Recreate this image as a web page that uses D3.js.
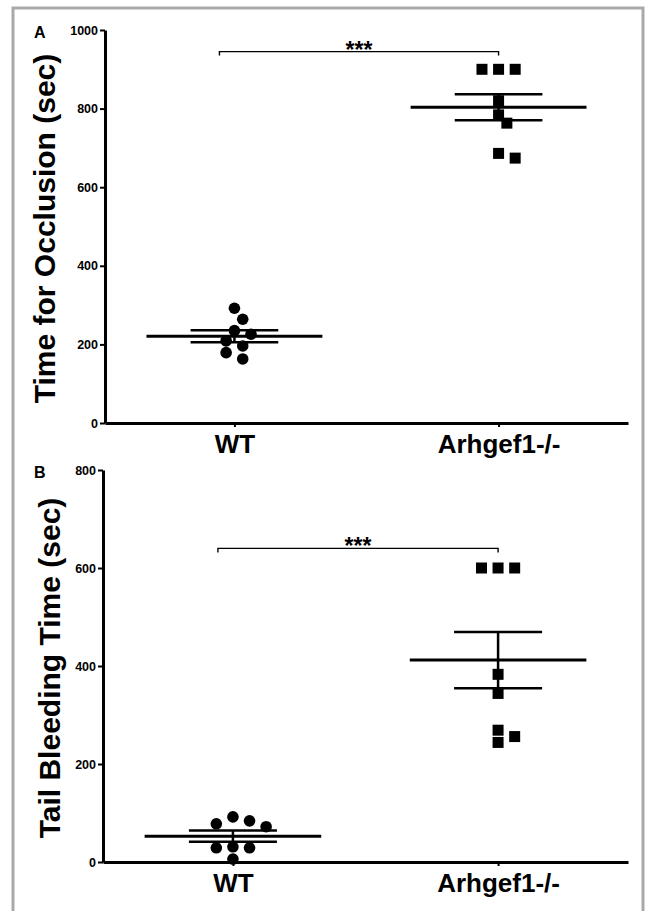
<!DOCTYPE html>
<html>
<head>
<meta charset="utf-8">
<script src="https://cdnjs.cloudflare.com/ajax/libs/d3/7.8.5/d3.min.js"></script>
<style>
  body { margin: 0; background: #fff; }
  svg text { font-family: "Liberation Sans", Arial, sans-serif; font-weight: bold; fill: #000; }
</style>
</head>
<body>
<div id="chart"></div>
<script>
// groups on the x axis
var groups = ["WT", "Arhgef1-/-"];

// panel A: time for occlusion (sec)
var occlusionWT = [292, 264, 235, 226, 209, 196, 179, 163];
var occlusionKO = [900, 900, 900, 820, 784, 763, 686, 674];
var occlusionTicks = [0, 200, 400, 600, 800, 1000];
var occlusionSig = 945;

// panel B: tail bleeding time (sec)
var bleedingWT = [92, 84, 78, 72, 31, 29, 29, 6];
var bleedingKO = [600, 600, 600, 383, 344, 269, 256, 244];
var bleedingTicks = [0, 200, 400, 600, 800];
var bleedingSig = 640;

var W = 647, H = 911;
var svg = d3.select("#chart").append("svg")
    .attr("width", W)
    .attr("height", H);

// grey frame (open at the bottom)
svg.append("rect")
    .attr("x", 13).attr("y", 8)
    .attr("width", 630).attr("height", 930)
    .attr("fill", "none")
    .attr("stroke", "#a9a9a9")
    .attr("stroke-width", 3);

var panels = [
  {letter: "A", title: "Time for Occlusion (sec)", top: 30, bottom: 423, left: 105,
   wt: occlusionWT, ko: occlusionKO, ticks: occlusionTicks, sig: occlusionSig, labelX: 55},
  {letter: "B", title: "Tail Bleeding Time (sec)", top: 470, bottom: 862, left: 103,
   wt: bleedingWT, ko: bleedingKO, ticks: bleedingTicks, sig: bleedingSig, labelX: 60}
];

// simple greedy beeswarm: keep y, shift x by steps until no overlap
function swarm(vals, y, cx, unit, gap) {
  var placed = [];
  vals.slice().sort(function(a, b){ return b - a; }).forEach(function(v){
    var py = y(v);
    for (var k = 0; k < 20; k++) {
      var off = k === 0 ? 0 : (k % 2 ? 1 : -1) * Math.ceil(k / 2) * unit;
      var ok = placed.every(function(p){
        var dx = p.x - (cx + off), dy = p.y - py;
        return Math.sqrt(dx*dx + dy*dy) >= gap;
      });
      if (ok) { placed.push({v: v, x: cx + off, y: py}); break; }
    }
  });
  return placed;
}

panels.forEach(function(p){
  var g = svg.append("g");
  var right = 628;

  var y = d3.scaleLinear()
      .domain([0, d3.max(p.ticks)])
      .range([p.bottom, p.top]);

  var x = d3.scalePoint()
      .domain(groups)
      .range([p.left, right])
      .padding(0.49)
      .align(0.5);

  // y axis
  var ya = g.append("g")
      .attr("transform", "translate(" + p.left + ",0)")
      .call(d3.axisLeft(y).tickValues(p.ticks).tickFormat(d3.format("d"))
        .tickSize(5).tickSizeOuter(0).tickPadding(2));
  ya.select(".domain").attr("stroke-width", 3);
  ya.selectAll(".tick line").attr("stroke-width", 2);
  ya.selectAll(".tick text").style("font-size", "12.5px");

  // x axis
  var xa = g.append("g")
      .attr("transform", "translate(0," + p.bottom + ")")
      .call(d3.axisBottom(x).tickSize(4).tickSizeOuter(0).tickPadding(8));
  xa.select(".domain").attr("stroke-width", 3);
  xa.selectAll(".tick line").attr("stroke-width", 2);
  xa.selectAll(".tick text").style("font-size", "26px");

  // panel letter
  g.append("text")
      .attr("x", 34).attr("y", p.top + 8)
      .style("font-size", "16px")
      .text(p.letter);

  // y axis title
  g.append("text")
      .attr("transform", "translate(" + p.labelX + "," + ((p.top + p.bottom) / 2 + 2) + ") rotate(-90)")
      .attr("text-anchor", "middle")
      .style("font-size", "30px")
      .text(p.title);

  var step = x.step();
  [[groups[0], p.wt, "circle"], [groups[1], p.ko, "square"]].forEach(function(s){
    var cx = x(s[0]);
    var m = d3.mean(s[1]);
    var sem = d3.deviation(s[1]) / Math.sqrt(s[1].length);

    // mean line, SEM caps and connector
    g.append("line")
        .attr("x1", cx - step * 0.333).attr("x2", cx + step * 0.333)
        .attr("y1", y(m)).attr("y2", y(m))
        .attr("stroke", "#000").attr("stroke-width", 3);
    [m - sem, m + sem].forEach(function(v){
      g.append("line")
          .attr("x1", cx - step * 0.166).attr("x2", cx + step * 0.166)
          .attr("y1", y(v)).attr("y2", y(v))
          .attr("stroke", "#000").attr("stroke-width", 2.5);
    });
    g.append("line")
        .attr("x1", cx).attr("x2", cx)
        .attr("y1", y(m - sem)).attr("y2", y(m + sem))
        .attr("stroke", "#000").attr("stroke-width", 2.5);

    var pts = swarm(s[1], y, cx, 8.3, 11.5);
    if (s[2] === "circle") {
      g.selectAll(null).data(pts).enter().append("circle")
          .attr("cx", function(d){ return d.x; })
          .attr("cy", function(d){ return d.y; })
          .attr("r", 5.8)
          .attr("fill", "#000");
    } else {
      g.selectAll(null).data(pts).enter().append("path")
          .attr("transform", function(d){ return "translate(" + d.x + "," + d.y + ")"; })
          .attr("d", d3.symbol().type(d3.symbolSquare).size(121))
          .attr("fill", "#000");
    }
  });

  // significance bracket
  var bx1 = x(groups[0]) - 15, bx2 = x(groups[1]), by = y(p.sig);
  g.append("path")
      .attr("d", "M" + bx1 + "," + (by + 4) + "V" + by + "H" + bx2 + "V" + (by + 4))
      .attr("fill", "none")
      .attr("stroke", "#000")
      .attr("stroke-width", 1.4);
  g.append("text")
      .attr("x", (bx1 + bx2) / 2).attr("y", by + 6)
      .attr("text-anchor", "middle")
      .style("font-size", "23px")
      .text("***");
});
</script>
</body>
</html>
